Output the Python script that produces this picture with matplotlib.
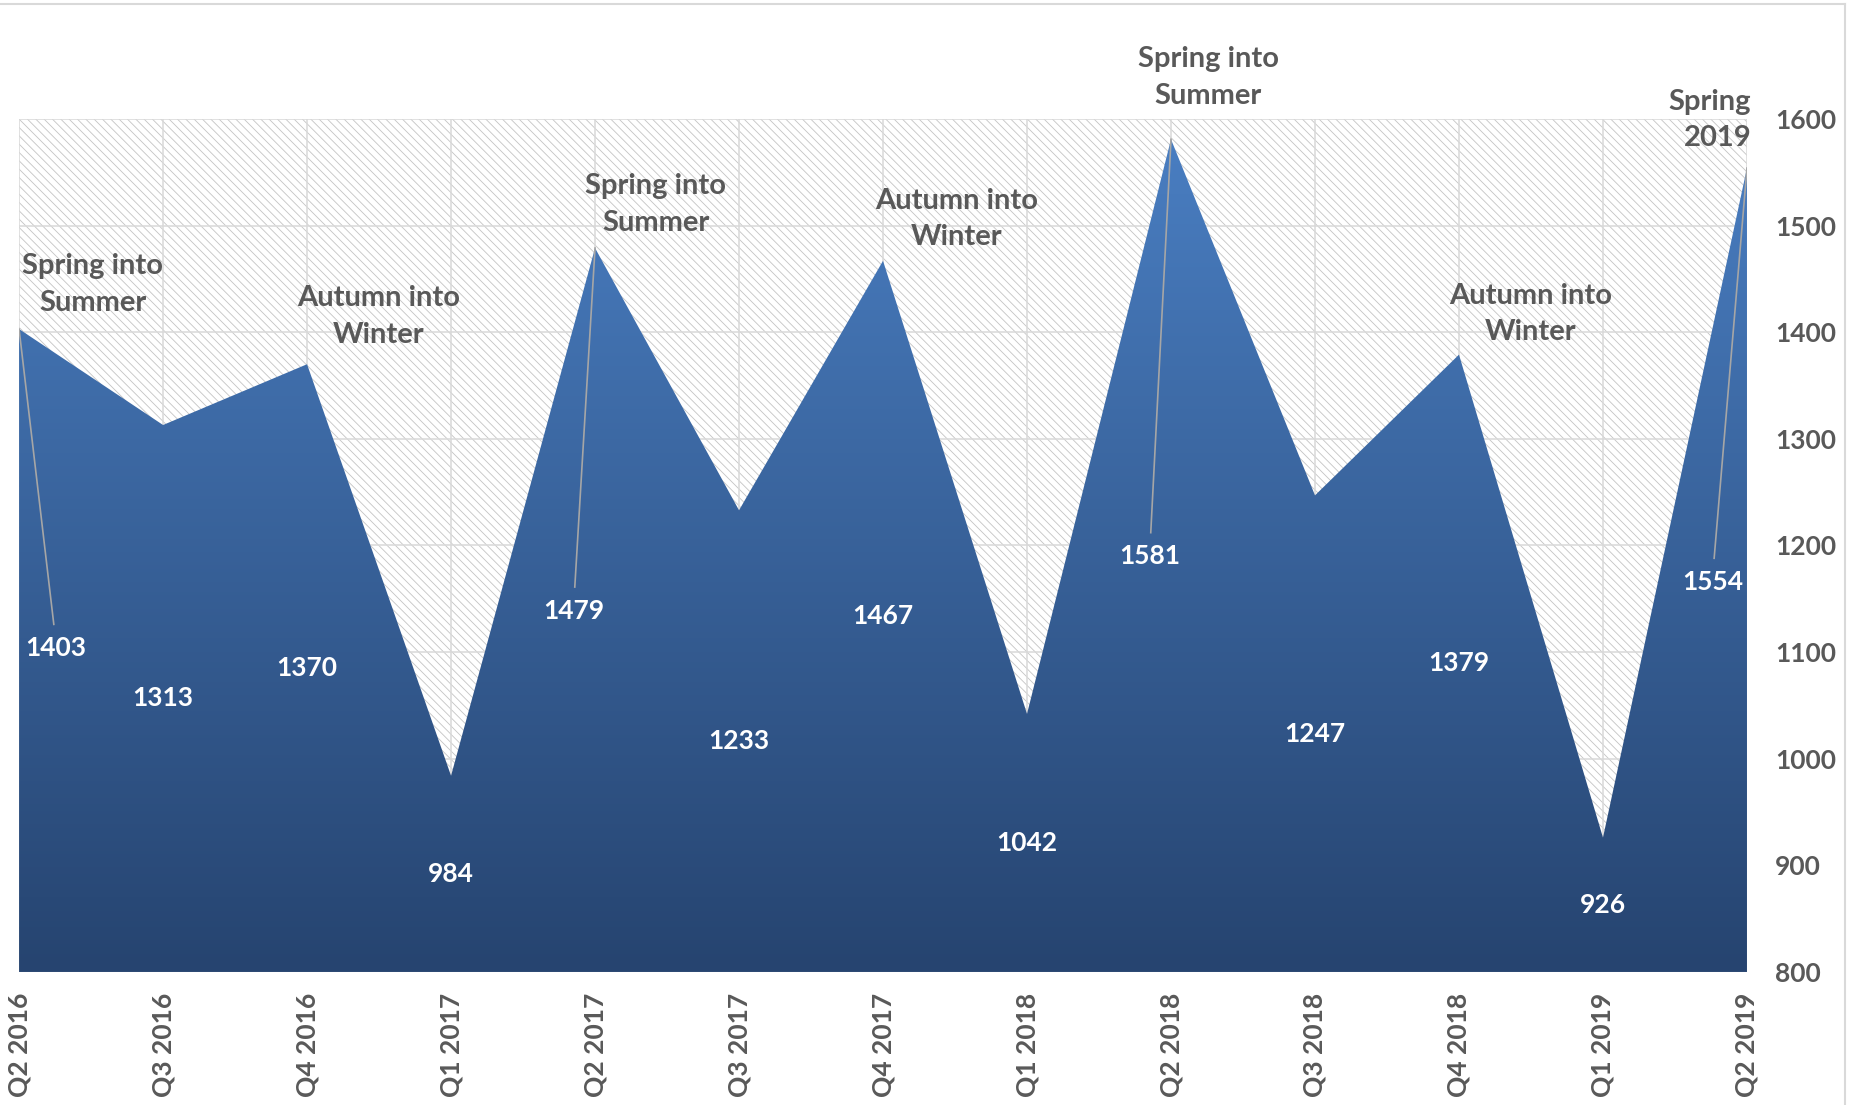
import numpy as np
import matplotlib.pyplot as plt
from matplotlib.colors import LinearSegmentedColormap
from matplotlib.patches import Rectangle
from matplotlib.lines import Line2D

quarters = ['Q2 2016', 'Q3 2016', 'Q4 2016', 'Q1 2017', 'Q2 2017', 'Q3 2017', 'Q4 2017',
            'Q1 2018', 'Q2 2018', 'Q3 2018', 'Q4 2018', 'Q1 2019', 'Q2 2019']
values = [1403, 1313, 1370, 984, 1479, 1233, 1467, 1042, 1581, 1247, 1379, 926, 1554]

# seasonal callouts: (x, y, text, horizontal alignment)
callouts = [
    (0.51, 1445, 'Spring into\nSummer', 'center'),
    (2.5, 1415, 'Autumn into\nWinter', 'center'),
    (4.42, 1520, 'Spring into\nSummer', 'center'),
    (6.51, 1506, 'Autumn into\nWinter', 'center'),
    (8.26, 1639, 'Spring into\nSummer', 'center'),
    (10.5, 1417, 'Autumn into\nWinter', 'center'),
    (12.03, 1599, 'Spring\n2019', 'right'),
]

# data labels moved off their default spot, joined to the point by a leader line
moved_labels = {0: (0.254, 1104), 4: (3.852, 1139), 8: (7.852, 1190), 12: (11.76, 1166)}

plt.rcParams['font.family'] = ['Lato', 'DejaVu Sans']
plt.rcParams['hatch.linewidth'] = 0.6
plt.rcParams['hatch.color'] = '#c4c4c4'

text_grey = '#595959'
grid_grey = '#d9d9d9'
ymin, ymax = 800, 1600

fig = plt.figure(figsize=(18.51, 11.05), dpi=100)
ax = fig.add_axes([0.0103, 0.1204, 0.9335, 0.7719])
x = np.arange(len(values))

# hatched plot background
ax.add_patch(Rectangle((0, 0), 1, 1, transform=ax.transAxes, facecolor='white',
                       edgecolor='#c4c4c4', hatch='\\\\\\\\', linewidth=0, zorder=0))

ax.set_xlim(0, len(values) - 1)
ax.set_ylim(ymin, ymax)
ax.set_xticks(x)
ax.set_xticklabels(quarters, rotation=90, fontsize=19, fontweight='bold', color=text_grey)
ax.set_yticks(np.arange(ymin, ymax + 1, 100))
ax.yaxis.tick_right()
ax.tick_params(axis='y', length=0, pad=20, labelsize=19, labelcolor=text_grey)
ax.tick_params(axis='x', length=0, pad=15)
for lab in ax.get_yticklabels():
    lab.set_fontweight('bold')
ax.grid(True, color=grid_grey, linewidth=1.1, zorder=1)
ax.set_axisbelow(True)
for s in ax.spines.values():
    s.set_visible(False)

# gradient filled area
area = ax.fill_between(x, values, ymin, facecolor='none', edgecolor='none', zorder=2)
cmap = LinearSegmentedColormap.from_list('blues', ['#264470', '#4a7fc3'])
grad = np.linspace(0, 1, 256).reshape(-1, 1)
im = ax.imshow(grad, cmap=cmap, origin='lower', aspect='auto',
               extent=(0, len(values) - 1, ymin, ymax), zorder=2, interpolation='bilinear')
im.set_clip_path(area.get_paths()[0], transform=ax.transData)

# data labels
for i, v in enumerate(values):
    if i in moved_labels:
        lx, ly = moved_labels[i]
        ax.plot([i, lx + (i - lx) * 0.05], [v, ly + 22], color='#a6a6a6', linewidth=1.2, zorder=3)
    else:
        lx, ly = i, (v + ymin) / 2
    ax.text(lx, ly, str(v), ha='center', va='center', fontsize=19, fontweight='bold',
            color='white', zorder=4)

for cx, cy, txt, ha in callouts:
    ax.text(cx, cy, txt, ha=ha, va='center', fontsize=21, fontweight='bold',
            color=text_grey, linespacing=1.5, zorder=4, clip_on=False)

# outer frame
fig.add_artist(Line2D([0, 1845 / 1851], [1 - 4 / 1105, 1 - 4 / 1105], color='#d9d9d9', linewidth=1.5))
fig.add_artist(Line2D([1845 / 1851, 1845 / 1851], [0, 1 - 4 / 1105], color='#d9d9d9', linewidth=1.5))

fig.savefig('out.png', dpi=100)
